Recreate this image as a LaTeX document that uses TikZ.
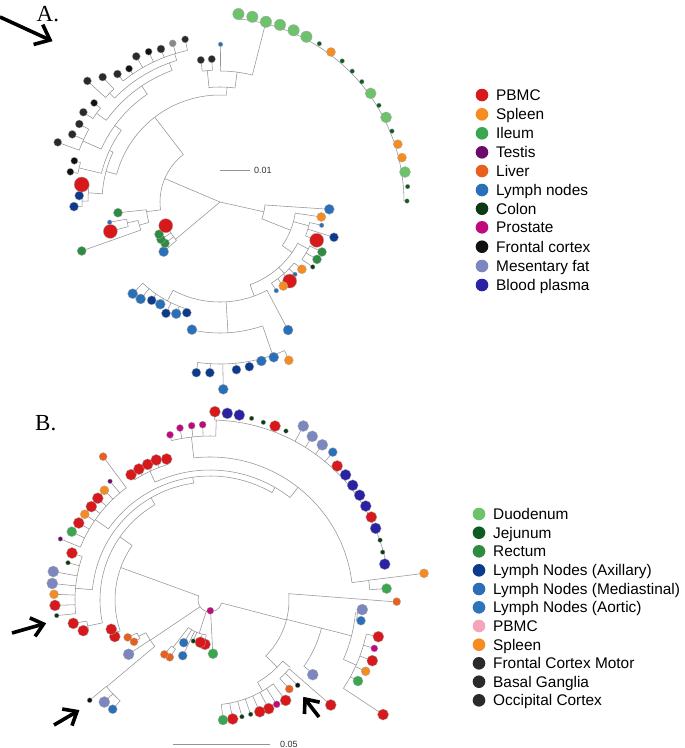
\documentclass[tikz,border=0pt]{standalone}
\usepackage{fontspec}
\setmainfont{Liberation Serif}
\newfontfamily\lsans{Liberation Sans}
\usetikzlibrary{calc}
\definecolor{cPBMC}{HTML}{D7191C}
\definecolor{cSpleen}{HTML}{F68B1F}
\definecolor{cIleum}{HTML}{3BA650}
\definecolor{cTestis}{HTML}{6B0A6B}
\definecolor{cLiver}{HTML}{E8601C}
\definecolor{cLymph}{HTML}{2A70B8}
\definecolor{cColon}{HTML}{0A3B14}
\definecolor{cProst}{HTML}{BF0A7F}
\definecolor{cFront}{HTML}{111111}
\definecolor{cMes}{HTML}{7C86BF}
\definecolor{cPlasma}{HTML}{2B22A3}
\definecolor{cDuod}{HTML}{6DC36B}
\definecolor{cJej}{HTML}{0D5C22}
\definecolor{cRect}{HTML}{2E8B40}
\definecolor{cAxil}{HTML}{0C3A8D}
\definecolor{cMedi}{HTML}{2D6DB5}
\definecolor{cAort}{HTML}{2E74BA}
\definecolor{cPbmcB}{HTML}{F5A5BA}
\definecolor{cDark}{HTML}{2A2A2A}
\definecolor{cGray}{HTML}{8A8A8A}
\tikzset{
  br/.style={draw=black!42,line width=0.55pt},
  lf/.style={draw=black!35,line width=0.3pt},
  arwl/.style={line width=3.6pt,line join=miter,line cap=butt,draw=black},
  legtxt/.style={font=\lsans\fontsize{15.4}{17}\selectfont,anchor=base west,inner sep=0pt},
  scl/.style={font=\lsans\fontsize{9}{10}\selectfont,anchor=west,inner sep=0pt,text=black!80},
  panel/.style={font=\fontsize{23}{25}\selectfont,anchor=base west,inner sep=0pt}
}
\newcommand\Rd[3]{\draw[br] (#1:#2) -- (#1:#3);}
\newcommand\Ac[3]{\draw[br] (#1:#3) arc[start angle=#1,end angle=#2,radius=#3];}
\newcommand\Arrw[3]{\draw[arwl] (#1) -- (#2);
  \draw[arwl] ($(#2)!#3!40:(#1)$) -- (#2) -- ($(#2)!#3!-40:(#1)$);}
\begin{document}
\begin{tikzpicture}[x=1pt,y=-1pt]
\useasboundingbox (0,0) rectangle (685,748);
\fill[white] (0,0) rectangle (685,748);

% ---------------- Panel A tree ----------------
\begin{scope}[shift={(220,202)}]
\Rd{12.6}{0}{45}\Rd{140}{0}{58}\Rd{203}{0}{60}
\Ac{3.8}{21.8}{45}\Rd{3.8}{45}{109.5}\Rd{21.8}{45}{76}
\Ac{8.4}{35}{76}\Rd{8.4}{76}{102.4}
\Rd{15}{76}{92}\Ac{12.9}{21.6}{92}\Rd{12.9}{92}{104.3}\Rd{17.2}{92}{119.3}\Rd{21.6}{92}{104}
\Rd{35}{76}{88}\Ac{28}{70}{88}
\Rd{28}{88}{100}\Ac{26.1}{35}{100}\Rd{26.1}{100}{113.6}\Rd{30.6}{100}{112.7}\Rd{35}{100}{113.2}
\Rd{48}{88}{96}\Ac{39.4}{57.6}{96}
\foreach \a/\r in {39.4/106,44/104.2,48.6/105.4,53/105.2,57.6/105}{\Rd{\a}{96}{\r}}
\Rd{70}{88}{100}\Ac{62}{118}{100}\Rd{62}{100}{145}
\Rd{86.5}{100}{131}\Ac{71}{102.4}{131}
\Rd{71}{131}{162}\Ac{66.5}{97.9}{162}
\foreach \a/\r in {66.5/172.6,70.9/164.3,75.4/164.3,79.9/167.3,84.4/168.5,89/187.3,93.4/171,97.9/172.3}{\Rd{\a}{162}{\r}}
\Rd{118}{100}{112}\Ac{106.7}{133.6}{112}
\foreach \a/\r in {106.7/115.6,111.4/120,115.9/123.7,120.3/118.4,124.8/119.7,129.3/125.3,133.6/126.6}{\Rd{\a}{112}{\r}}
% green cluster
\Ac{138.6}{156.4}{58}
\foreach \a/\r in {138.6/75.1,143.1/68.8,147.7/69.8,152.1/69}{\Rd{\a}{58}{\r}}
% upper-left
\Ac{172.5}{232.4}{60}
\Rd{172.5}{60}{74}\Ac{164}{174}{74}\Rd{174}{74}{102.6}
\Rd{164}{74}{84}\Ac{160.5}{167.3}{84}\Rd{160.5}{84}{146.7}
\Rd{167.3}{84}{95}\Ac{165}{169.6}{95}\Rd{165}{95}{113.5}\Rd{169.6}{95}{112.2}
\Rd{232.4}{60}{107}\Ac{195}{273.5}{107}
\Rd{195}{107}{118}\Ac{184}{205}{118}
\Rd{184}{118}{132}\Ac{180.4}{187.2}{132}
\Rd{180.4}{132}{138}\Ac{178.2}{182.6}{138}\Rd{178.2}{138}{146.1}\Rd{182.6}{138}{140.9}
\Rd{187.2}{132}{139.4}
\Rd{205}{118}{122}\Ac{193.6}{216}{122}
\Rd{193.6}{122}{145}\Ac{191.4}{195.8}{145}\Rd{191.4}{145}{152.7}\Rd{195.8}{145}{151.4}
\Rd{216}{122}{130}\Ac{204}{236}{130}
\Rd{204}{130}{150}\Ac{200.2}{209}{150}\Rd{200.2}{150}{172.9}\Rd{204.6}{150}{162.5}\Rd{209}{150}{160.9}
\Rd{236}{130}{140}\Ac{215.7}{250}{140}
\Rd{215.7}{140}{152}\Ac{213.3}{218.2}{152}\Rd{213.3}{152}{163.5}\Rd{218.2}{152}{160.2}
\Rd{250}{140}{148}\Ac{224.6}{253}{148}
\Rd{224.6}{148}{155}\Ac{222.4}{226.8}{155}\Rd{222.4}{155}{179.6}\Rd{226.8}{155}{171.4}
\Rd{253}{148}{155}\Ac{231.3}{257.9}{155}
\foreach \a/\r in {231.3/164,235.7/161.4,240.1/168,244.6/166.4,248.9/164,253.4/165.6,257.9/166.4}{\Rd{\a}{155}{\r}}
\Rd{273.5}{107}{115}\Ac{264.5}{277.5}{115}
\Rd{264.5}{115}{132}\Ac{262.3}{266.7}{132}\Rd{262.3}{132}{143.3}\Rd{266.7}{132}{143.2}
\Rd{277.5}{115}{131}\Ac{270.2}{284.3}{131}\Rd{270.2}{131}{157.7}
\Rd{284.3}{131}{184}\Ac{275.6}{359.7}{184}
% leaves
\foreach \a/\r/\c/\s in {
3.8/109.5/cLymph/5, 8.4/102.4/cSpleen/4.5, 12.9/104.3/cLymph/2.3, 17.2/119.3/cAxil/4.5,
21.6/104/cPBMC/7, 26.1/113.6/cRect/4.5, 30.6/112.7/cRect/4.5, 35/113.2/cColon/2.3,
39.4/106/cSpleen/4.5, 44/104.2/cLymph/2.3, 48.6/105.4/cPBMC/7, 53/105.2/cSpleen/4.5,
57.6/105/cLymph/2.3, 62/145/cLymph/5, 66.5/172.6/cSpleen/4.5, 70.9/164.3/cLymph/5,
75.4/164.3/cLymph/5, 79.9/167.3/cAxil/4.5, 84.4/168.5/cAxil/4.5, 89/187.3/cLymph/5,
93.4/171/cAxil/4.5, 97.9/172.3/cAxil/4.5, 102.4/130.7/cLymph/5, 106.7/115.6/cAxil/4.5,
111.4/120/cLymph/5, 115.9/123.7/cAxil/4.5, 120.3/118.4/cLymph/5, 124.8/119.7/cAxil/4.5,
129.3/125.3/cLymph/5, 133.6/126.6/cLymph/5, 138.6/75.1/cLymph/5, 143.1/68.8/cRect/4.5,
147.7/69.8/cRect/4.5, 152.1/69/cRect/4.5, 156.4/59.2/cPBMC/7, 160.5/146.7/cRect/4.5,
165/113.5/cPBMC/7, 169.6/112.2/cLymph/2.3, 174/102.6/cRect/4.5, 178.2/146.1/cAxil/4.5,
182.6/140.9/cAxil/4.5, 187.2/139.4/cPBMC/7.5, 191.4/152.7/cFront/3.5, 195.8/151.4/cFront/3.5,
200.2/172.9/cDark/4, 204.6/162.5/cDark/4, 209/160.9/cDark/4, 213.3/163.5/cDark/4,
218.2/160.2/cFront/3.5, 222.4/179.6/cDark/4, 226.8/171.4/cDark/4, 231.3/164/cDark/4,
235.7/161.4/cFront/3.5, 240.1/168/cDark/4, 244.6/166.4/cFront/3.5, 248.9/164/cDark/4,
253.4/165.6/cGray/3.5, 257.9/166.4/cDark/3.5, 262.3/143.3/cDark/3.7, 266.7/143.2/cDark/3.7,
270.2/157.7/cLymph/2.3,
275.6/188.9/cDuod/5.7, 279.9/188/cDuod/5.7, 284.3/186/cDuod/5.7, 288.7/187/cDuod/5.7,
293.2/186.8/cDuod/5.7, 297.6/186.5/cDuod/5.7, 302.1/186.9/cJej/2.3, 306.5/186.6/cSpleen/4.5,
310.9/186.6/cJej/2.3, 315.3/186/cJej/2.3, 319.7/186/cJej/2.3, 324.2/185.8/cDuod/5.5,
328.7/186/cJej/2.3, 333/186.4/cDuod/5.5, 337.6/186/cJej/2.3, 342/187/cSpleen/4.5,
346.3/187.3/cSpleen/4.5, 350.8/187.4/cDuod/5.5, 355.3/188.3/cJej/2.3, 359.7/187/cJej/2.3}
{\filldraw[lf,fill=\c] (\a:\r) circle[radius={\s pt}];}
\end{scope}

% ---------------- Panel B tree ----------------
\begin{scope}[shift={(210,600)}]
\Ac{14.6}{200}{12}
\Rd{14.6}{12}{79}\Ac{-4.6}{45}{79}
\draw[br] (-4.6:79) -- (0.5:182);
\Rd{14.2}{79}{115}\Ac{14.2}{35.3}{115}\Rd{35.3}{115}{122}
\Rd{14.2}{115}{146}\Ac{5}{24}{146}
\Rd{5}{146}{148}\Ac{3.6}{7.8}{148}
\Rd{24}{146}{160}\Ac{12.3}{33.5}{160}
\foreach \a/\r in {12.3/172.3,16.4/171.3,20.5/173.3,24.6/171.2,28.7/168.7,33.5/207.6}{\Rd{\a}{160}{\r}}
\Rd{45}{79}{95}\Ac{40}{60}{95}
\Rd{40}{95}{105}\Ac{41}{48.3}{105}
\foreach \a/\r in {41/160,44.2/122.3,48.3/119.2}{\Rd{\a}{105}{\r}}
\Rd{60}{95}{105}\Ac{53}{83.8}{105}
\foreach \a/\r in {53/125.7,57.4/123.8,61.6/123.5,66/122.3,70.4/121.3,74.7/121,79.2/121.1,83.8/120.7}{\Rd{\a}{105}{\r}}
% inner cluster
\Rd{87}{12}{50}
\Rd{108}{12}{35}\Ac{96.4}{128}{35}
\foreach \a/\r in {96.4/44.6,102.9/43.4,112.2/44.3,116.1/62,121.6/50.1}{\Rd{\a}{35}{\r}}
\Rd{128}{35}{60}\Ac{125.1}{130}{60}\Rd{125.1}{60}{70}\Rd{130}{60}{71}
% bottom left
\Rd{146}{12}{72}\Ac{140}{153}{72}
\Rd{140}{72}{135}\Ac{131.7}{140.2}{135}
\Rd{131.7}{135}{146.3}\Rd{136}{135}{146.9}\Rd{140.2}{135}{156.6}
\Rd{146.3}{72}{97.8}
\Rd{153}{72}{80}\Ac{151.2}{155.6}{80}\Rd{151.2}{80}{86.7}\Rd{155.6}{80}{90.4}
% main clade
\Rd{200}{12}{95}\Ac{161}{215}{95}
\Rd{161}{95}{98}\Ac{159}{163.5}{98}
\Rd{215}{95}{110}\Ac{168}{240}{110}
\Rd{168}{110}{125}\Ac{166.4}{170.3}{125}\Rd{166.4}{125}{130.4}\Rd{170.3}{125}{138.7}
\Rd{240}{110}{118}\Ac{185}{262}{118}
\Rd{185}{118}{135}\Ac{174.2}{198.8}{135}
\foreach \a/\r in {174.2/154.1,178/155.1,182.1/156.1,186/158.6,190.3/159.3,194.7/146.8,198.8/145.8}{\Rd{\a}{135}{\r}}
\Rd{262}{118}{124}\Ac{215}{300}{124}
\Rd{215}{124}{140}\Ac{202.2}{233.3}{140}
\foreach \a/\r in {202.2/161.6,206.3/154.2,210.4/152.2,214.4/151.8,218.2/151,222.2/151.5,226.1/152.3,229.9/155.2,233.3/178.8}{\Rd{\a}{140}{\r}}
\Rd{300}{124}{130}\Ac{245}{308}{130}
\Rd{245}{130}{142}\Ac{237.8}{252.9}{142}
\foreach \a/\r in {237.8/148.1,241.5/149,245.3/149.3,249/150,252.9/147.5}{\Rd{\a}{142}{\r}}
\Rd{308}{130}{143}\Ac{263.5}{353}{143}
\Rd{263.5}{143}{164}\Ac{256.4}{272}{164}
\foreach \a/\r in {256.4/170,260.1/174.6,264/175.3,267.6/175.5}{\Rd{\a}{164}{\r}}
\Rd{272}{164}{180}\Ac{271.5}{348.4}{180}
\foreach \a/\r in {271.5/188.4,298.2/197.4,302/193,305.9/191.6,309.7/192.2}{\Rd{\a}{180}{\r}}
\Rd{353}{143}{160}\Ac{352.9}{356.3}{160}\Rd{352.9}{160}{215.7}\Rd{356.3}{160}{177}
% leaves
\foreach \a/\r/\c/\s in {
271.5/188.4/cPBMC/5.5, 275.3/187.5/cPlasma/5.5, 279/187.3/cPlasma/5.5, 282.9/186.4/cColon/2.3,
286.7/185.5/cColon/2.3, 290.5/185.7/cPBMC/5.5, 294.2/185.3/cColon/2.3, 298.2/197.4/cMes/5.5,
302/193/cMes/5.5, 305.9/191.6/cMes/5.5, 309.7/192.2/cLymph/4.5, 313.5/184.8/cPBMC/5.5,
317.3/184.5/cPlasma/5.5, 321.2/183.1/cPlasma/5.5, 325/182.7/cPlasma/5.5, 328.9/181.9/cPlasma/5.5,
332.8/181.4/cPBMC/5.5, 336.6/180.5/cPlasma/5.5, 340.6/180.3/cColon/2.3, 344.5/179.2/cColon/2.3,
348.4/178.4/cPlasma/5.5, 352.9/215.7/cSpleen/4.5, 356.3/177/cIleum/5, 0.5/186.7/cLiver/4,
3.6/152.6/cMes/5.5, 7.8/152.4/cLymph/4.5, 12.3/172.3/cPBMC/5.5, 16.4/171.3/cProst/3.5,
20.5/173.3/cPBMC/5.5, 24.6/171.2/cSpleen/4.5, 28.7/168.7/cIleum/5, 33.5/207.6/cPBMC/5.5,
36/127/cMes/5.5, 41/160/cPBMC/5.5, 44.2/122.3/cFront/2.5, 48.3/119.2/cLiver/4,
53/125.7/cPBMC/5.5, 57.4/123.8/cProst/3.5, 61.6/123.5/cPBMC/5.5, 66/122.3/cPBMC/5.5,
70.4/121.3/cColon/2.3, 74.7/121/cColon/2.3, 79.2/121.1/cPBMC/5.5, 83.8/120.7/cIleum/5,
86.8/53.8/cIleum/5, 88.4/10.7/cProst/3.5, 96.4/44.6/cPBMC/5.5, 102.9/43.4/cPBMC/5.5,
112.2/44.3/cColon/2.3, 116.1/62/cLymph/4.5, 121.6/50.1/cLymph/4.5, 125.1/70/cLiver/4,
130/71/cLiver/4, 131.7/146.3/cLymph/4.5, 136/146.9/cMes/5.5, 140.2/156.6/cFront/2.5,
146.3/97.8/cMes/5.5, 151.2/86.7/cLiver/4, 155.6/90.4/cLiver/4, 159/102/cPBMC/5.5,
163.5/103/cPBMC/5.5, 166.4/130.4/cPBMC/5.5, 170.3/138.7/cPBMC/5.5, 174.2/154.1/cColon/2.3,
178/155.1/cPBMC/5.5, 182.1/156.1/cSpleen/4.5, 186/158.6/cMes/5.5, 190.3/159.3/cMes/5.5,
194.7/146.8/cColon/2.3, 198.8/145.8/cPBMC/5.5, 202.2/161.6/cTestis/2.3, 206.3/154.2/cIleum/5,
210.4/152.2/cPBMC/5.5, 214.4/151.8/cSpleen/4.5, 218.2/151/cPBMC/5.5, 222.2/151.5/cPBMC/5.5,
226.1/152.3/cSpleen/4.5, 229.9/155.2/cTestis/2.3, 233.3/178.8/cLiver/4, 237.8/148.1/cPBMC/5.5,
241.5/149/cPBMC/5.5, 245.3/149.3/cPBMC/5.5, 249/150/cPBMC/5.5, 252.9/147.5/cPBMC/5.5,
256.4/170/cProst/3.5, 260.1/174.6/cProst/3.5, 264/175.3/cProst/3.5, 267.6/175.5/cProst/3.5}
{\filldraw[lf,fill=\c] (\a:\r) circle[radius={\s pt}];}
\end{scope}

% ---------------- labels, scale bars, arrows ----------------
\node[panel] (labA) at (36.5,21.7) {A.};
\node[panel] (labB) at (35,430) {B.};
\coordinate (sa1) at (220,170); \coordinate (sa2) at (250,170);
\draw[br,line width=0.8pt] (sa1) -- (sa2);
\node[scl] (sclA) at (254,170.5) {0.01};
\coordinate (sb1) at (173,744); \coordinate (sb2) at (270,744);
\draw[br,line width=0.8pt] (sb1) -- (sb2);
\node[scl] (sclB) at (280,744.5) {0.05};

\coordinate (a1t) at (0,17); \coordinate (a1h) at (50,40);
\Arrw{a1t}{a1h}{17pt}
\coordinate (a2t) at (12,633); \coordinate (a2h) at (43.5,624);
\Arrw{a2t}{a2h}{15pt}
\coordinate (a3t) at (54,725); \coordinate (a3h) at (77,711.5);
\Arrw{a3t}{a3h}{15pt}
\coordinate (a4t) at (319,717); \coordinate (a4h) at (305,699);
\Arrw{a4t}{a4h}{15pt}

% ---------------- legends ----------------
\foreach \y/\c/\t [count=\i] in {95/cPBMC/PBMC, 114.3/cSpleen/Spleen, 133.3/cIleum/Ileum,
  152.3/cTestis/Testis, 171/cLiver/Liver, 190/cLymph/Lymph nodes, 208.7/cColon/Colon,
  227.3/cProst/Prostate, 246.7/cFront/Frontal cortex, 266/cMes/Mesentary fat, 285/cPlasma/Blood plasma}
{\fill[\c] (482,\y) circle[radius=6.3pt];
 \node[legtxt] (la\i) at (496,\y+5.6) {\t};}
\foreach \y/\c/\t [count=\i] in {514/cDuod/Duodenum, 532.7/cJej/Jejunum, 551.3/cRect/Rectum,
  570.3/cAxil/Lymph Nodes (Axillary), 589/cMedi/Lymph Nodes (Mediastinal), 607.3/cAort/Lymph Nodes (Aortic),
  626/cPbmcB/PBMC, 644.7/cSpleen/Spleen, 663.3/cDark/Frontal Cortex Motor, 681.7/cDark/Basal Ganglia,
  700.3/cDark/Occipital Cortex}
{\fill[\c] (479,\y) circle[radius=6.3pt];
 \node[legtxt] (lb\i) at (493,\y+5.5) {\t};}
\end{tikzpicture}
\end{document}
